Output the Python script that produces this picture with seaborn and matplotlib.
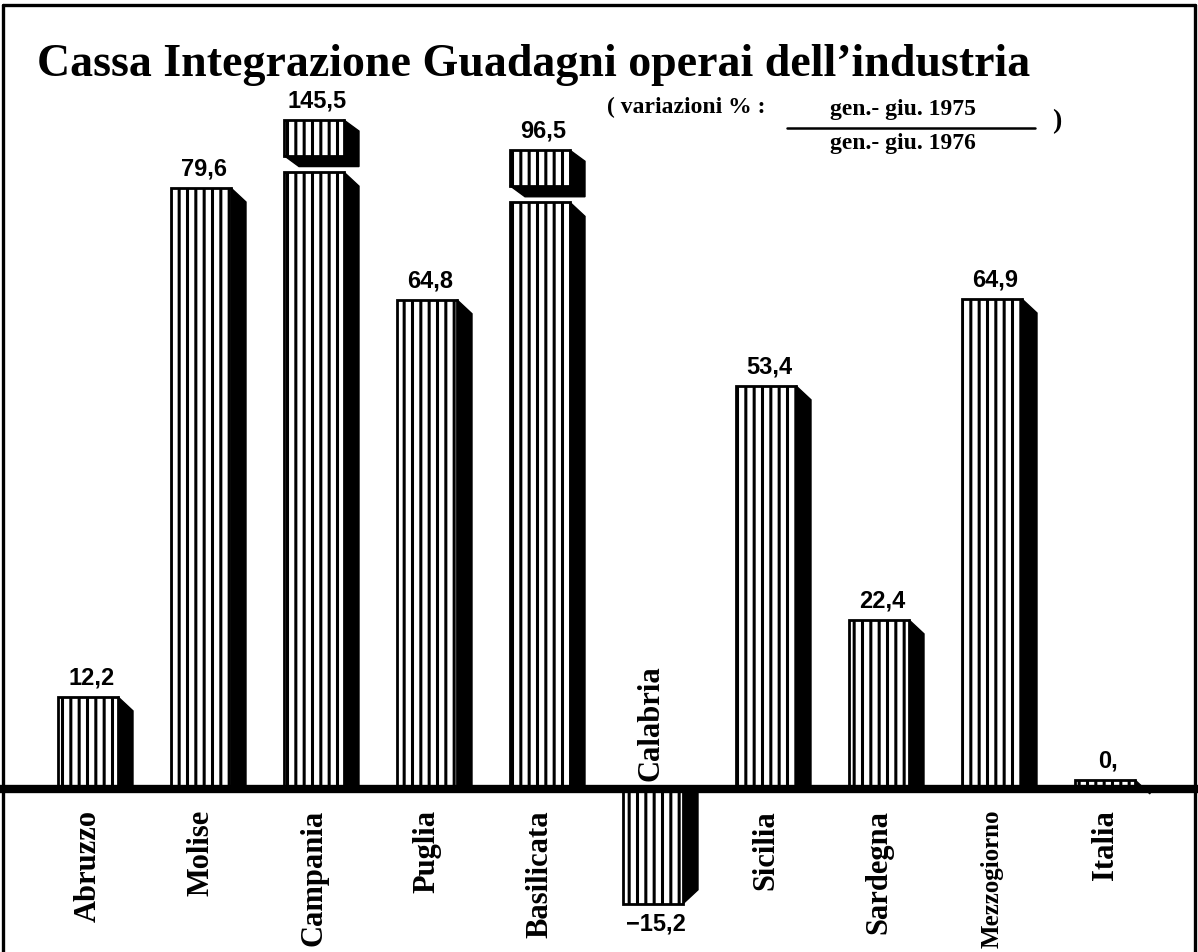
import matplotlib
matplotlib.use("Agg")
import matplotlib.pyplot as plt
import seaborn as sns
import pandas as pd
from matplotlib.patches import Polygon
from matplotlib.lines import Line2D

# ---------------- data ----------------
regions = ["Abruzzo", "Molise", "Campania", "Puglia", "Basilicata",
           "Calabria", "Sicilia", "Sardegna", "Mezzogiorno", "Italia"]
variazioni = [12.2, 79.6, 145.5, 64.8, 96.5, -15.2, 53.4, 22.4, 64.9, 1.2]
value_labels = ["12,2", "79,6", "145,5", "64,8", "96,5",
                "\u221215,2", "53,4", "22,4", "64,9", "0,"]
title_text = "Cassa Integrazione Guadagni operai dell\u2019industria"
subtitle_left = "( variazioni % :"
subtitle_num = "gen.- giu. 1975"
subtitle_den = "gen.- giu. 1976"

# ---------------- style ----------------
W, H, DPI = 1198, 952, 100
PX_PER_UNIT = 7.55
ZERO_PX = 789
X0_PX, STEP_PX = 88, 113
FACE_W = 60 / STEP_PX
SH_DX = 15 / STEP_PX
SH_DY = 14 / PX_PER_UNIT
BREAK_AT = {"Campania": 81.7, "Basilicata": 77.7}   # broken bars
CAP_GAP, CAP_H = 2.2, 4.7
LABEL_SIZE = {"Mezzogiorno": 18}

SERIF = ["Liberation Serif", "DejaVu Serif"]
SANS = ["Liberation Sans", "DejaVu Sans"]

sns.set_theme(style="white")
plt.rcParams["hatch.linewidth"] = 2.2
plt.rcParams["font.family"] = SERIF

fig = plt.figure(figsize=(W / DPI, H / DPI), dpi=DPI, facecolor="white")
ax = fig.add_axes([0, 0, 1, 1])

display_vals = [min(v, BREAK_AT.get(r, v)) for r, v in zip(regions, variazioni)]
df = pd.DataFrame({"regione": regions, "valore": display_vals})

sns.barplot(data=df, x="regione", y="valore", order=regions, ax=ax,
            color="white", saturation=1, width=FACE_W, errorbar=None,
            edgecolor="black", linewidth=2, hatch="||", zorder=2)

ax.set_xlim(-X0_PX / STEP_PX, (W - X0_PX) / STEP_PX)
ax.set_ylim(-(H - ZERO_PX) / PX_PER_UNIT, ZERO_PX / PX_PER_UNIT)
ax.axis("off")

bars = list(ax.patches)[:len(regions)]


def shadow_column(x0, x1, h):
    if h >= 0:
        pts = [(x1, h), (x1 + SH_DX, h - SH_DY), (x1 + SH_DX, 0), (x1, 0)]
    else:
        pts = [(x1, 0), (x1 + SH_DX, 0), (x1 + SH_DX, h + SH_DY), (x1, h)]
    ax.add_patch(Polygon(pts, closed=True, facecolor="black",
                         edgecolor="black", lw=1, zorder=1))


def shadow_block(x0, x1, ya, yb, dy):
    pts = [(x0, ya), (x0 + SH_DX, ya - dy), (x1 + SH_DX, ya - dy),
           (x1 + SH_DX, yb - dy), (x1, yb)]
    ax.add_patch(Polygon(pts, closed=True, facecolor="black",
                         edgecolor="black", lw=1, zorder=1))


for i, (p, r, v, lab) in enumerate(zip(bars, regions, variazioni, value_labels)):
    x0 = p.get_x()
    x1 = x0 + p.get_width()
    shadow_column(x0, x1, display_vals[i])
    top = display_vals[i]
    if r in BREAK_AT:
        cb = BREAK_AT[r] + CAP_GAP
        ax.bar(x0, CAP_H, bottom=cb, width=p.get_width(), align="edge",
               color="white", edgecolor="black", linewidth=2, hatch="||",
               zorder=2)
        shadow_block(x0, x1, cb, cb + CAP_H, 11 / PX_PER_UNIT)
        top = cb + CAP_H
    cx = (x0 + x1) / 2 + 0.03
    if v >= 0:
        ax.text(cx, top + 1.0, lab, ha="center", va="bottom", fontsize=17,
                fontweight="bold", family=SANS, color="black", zorder=5)
    else:
        ax.text(cx, top - 1.2, lab, ha="center", va="top", fontsize=17,
                fontweight="bold", family=SANS, color="black", zorder=5)

    # category labels (rotated)
    fs = LABEL_SIZE.get(r, 22)
    if v >= 0:
        ax.text(i, -21 / PX_PER_UNIT, r, rotation=90, ha="center",
                va="top", fontsize=fs, fontweight="bold", family=SERIF,
                color="black", zorder=5)
    else:
        ax.text(i - 0.02, 8 / PX_PER_UNIT, r, rotation=90, ha="center",
                va="bottom", fontsize=fs, fontweight="bold", family=SERIF,
                color="black", zorder=5)

# baseline
ax.axhline(0, color="black", lw=6, zorder=3)

# frame (left, top, right)
for (xa, ya), (xb, yb) in [((3, 0), (3, 947)), ((3, 947), (1195, 947)),
                           ((1195, 947), (1195, 0))]:
    fig.add_artist(Line2D([xa / W, xb / W], [ya / H, yb / H],
                          transform=fig.transFigure, color="black", lw=2.4))

# title
fig.text(37 / W, 1 - 76 / H, title_text, ha="left", va="baseline",
         fontsize=33, fontweight="bold", family=SERIF, color="black")

# subtitle with fraction
fig.text(607 / W, 1 - 107 / H, subtitle_left, ha="left", va="center",
         fontsize=17, fontweight="bold", family=SERIF, color="black")
fig.text(903 / W, 1 - 110 / H, subtitle_num, ha="center", va="center",
         fontsize=17, fontweight="bold", family=SERIF, color="black")
fig.text(903 / W, 1 - 144 / H, subtitle_den, ha="center", va="center",
         fontsize=17, fontweight="bold", family=SERIF, color="black")
fig.add_artist(Line2D([787 / W, 1035 / W], [1 - 128 / H, 1 - 128 / H],
                      transform=fig.transFigure, color="black", lw=1.8))
fig.text(1052 / W, 1 - 122 / H, ")", ha="left", va="center",
         fontsize=20, fontweight="bold", family=SERIF, color="black")

fig.savefig("out.png", dpi=DPI, facecolor="white")
